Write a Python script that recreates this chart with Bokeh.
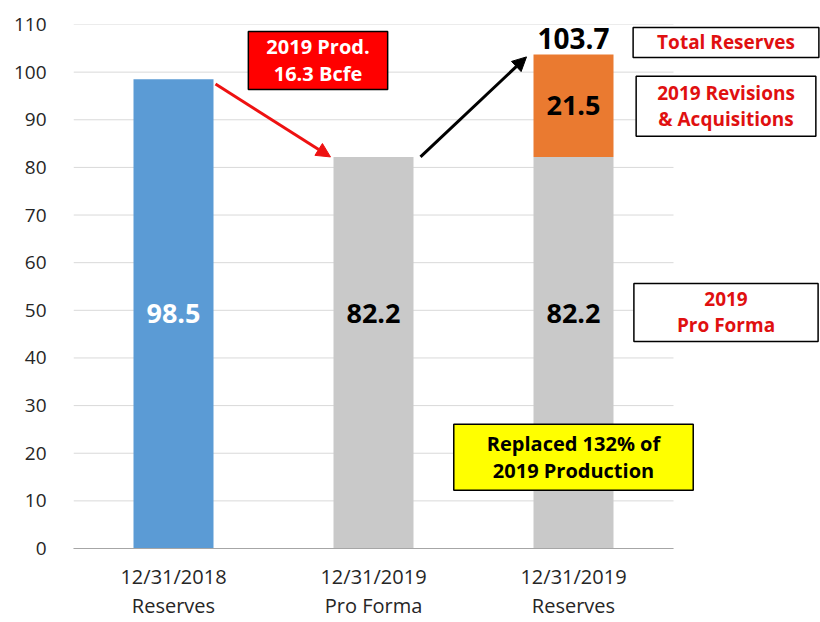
from bokeh.plotting import figure
from bokeh.models import Range1d, FixedTicker, Label, Arrow, NormalHead
from bokeh.embed import file_html
from bokeh.resources import INLINE

categories = ["12/31/2018\nReserves", "12/31/2019\nPro Forma", "12/31/2019\nReserves"]
base_values = [98.5, 82.2, 82.2]
base_colors = ["#5b9bd5", "#c9c9c9", "#c9c9c9"]
label_colors = ["white", "black", "black"]
revisions = 21.5
production = 16.3
total = 103.7
y_ticks = list(range(0, 111, 10))

FONT = "Open Sans"
xs = [i + 0.5 for i in range(len(categories))]
n = len(categories)

p = figure(width=820, height=622, output_backend="svg", toolbar_location=None,
           x_range=Range1d(0, 3.735), y_range=Range1d(0, 110),
           min_border_left=73, min_border_right=0, min_border_top=24, min_border_bottom=73)
p.outline_line_color = None
p.background_fill_color = "white"
p.xgrid.grid_line_color = None
p.ygrid.grid_line_color = None

# gridlines only across the category area
p.segment(x0=[0] * len(y_ticks), x1=[n] * len(y_ticks), y0=y_ticks, y1=y_ticks,
          line_color="#d9d9d9", line_width=1)

p.yaxis.ticker = FixedTicker(ticks=y_ticks)
p.yaxis.axis_line_color = None
p.yaxis.major_tick_line_color = None
p.yaxis.major_tick_out = 0
p.yaxis.minor_tick_line_color = None
p.yaxis.major_label_standoff = 27
p.yaxis.major_label_text_font = FONT
p.yaxis.major_label_text_font_size = "19px"
p.yaxis.major_label_text_color = "#262626"

p.xaxis.ticker = FixedTicker(ticks=xs)
p.xaxis.bounds = (0, n)
p.xaxis.major_label_overrides = {x: c for x, c in zip(xs, categories)}
p.xaxis.axis_line_color = "#a6a6a6"
p.xaxis.major_tick_line_color = None
p.xaxis.major_tick_out = 0
p.xaxis.minor_tick_line_color = None
p.xaxis.major_label_standoff = 14
p.xaxis.major_label_text_font = FONT
p.xaxis.major_label_text_font_size = "20px"
p.xaxis.major_label_text_color = "#262626"
p.xaxis.major_label_text_line_height = 1.1

# bars
p.vbar(x=xs, top=base_values, width=0.4, fill_color=base_colors, line_color=None)
p.vbar(x=[xs[2]], bottom=[base_values[2]], top=[base_values[2] + revisions], width=0.4,
       fill_color="#ea7a30", line_color=None)

# bar value labels (all on one common level, as in the original)
label_level = max(base_values) / 2
for x, v, c in zip(xs, base_values, label_colors):
    p.add_layout(Label(x=x, y=label_level, text=f"{v:.1f}", text_align="center", text_baseline="middle",
                       text_font=FONT, text_font_style="bold", text_font_size="27px", text_color=c))
p.add_layout(Label(x=xs[2], y=base_values[2] + revisions / 2, text=f"{revisions:.1f}",
                   text_align="center", text_baseline="middle",
                   text_font=FONT, text_font_style="bold", text_font_size="27px", text_color="black"))
p.add_layout(Label(x=xs[2], y=total, y_offset=6, text=f"{total:.1f}",
                   text_align="center", text_baseline="bottom",
                   text_font=FONT, text_font_style="bold", text_font_size="28px", text_color="black"))

# arrows
p.add_layout(Arrow(x_start=xs[0] + 0.21, y_start=base_values[0] - 1.0,
                   x_end=xs[1] - 0.215, y_end=base_values[1],
                   line_color="#ee1111", line_width=3,
                   end=NormalHead(size=14, fill_color="#ee1111", line_color="#ee1111")))
p.add_layout(Arrow(x_start=xs[1] + 0.235, y_start=base_values[1],
                   x_end=xs[2] - 0.235, y_end=total - 0.5,
                   line_color="black", line_width=3,
                   end=NormalHead(size=14, fill_color="black", line_color="black")))

# callout boxes; padding is (left, right, top, bottom)
def box(x, y, text, color, bg, pad, size):
    p.add_layout(Label(x=x, y=y, text=text, text_align="center", text_baseline="middle",
                       text_font=FONT, text_font_style="bold", text_font_size=size,
                       text_color=color, background_fill_color=bg,
                       border_line_color="black", border_line_width=1.5, padding=pad,
                       text_line_height=1.0))

box(1.2225, 102.46, f"2019 Prod.\n{production} Bcfe", "white", "#ff0000", (18, 18, 2, 2), "20px")
box(3.2625, 106.23, "Total Reserves", "#e01010", "white", (24, 24, 2, 2), "19px")
box(3.2625, 92.82, "2019 Revisions\n& Acquisitions", "#e01010", "white", (21, 21, 4, 4), "19px")
box(3.2625, 49.55, "2019\nPro Forma", "#e01010", "white", (43, 43, 3, 3), "19px")
box(2.5, 19.17, "Replaced 132% of\n2019 Production", "black", "#ffff00", (33, 33, 6, 6), "20px")

open("out.html", "w").write(file_html(p, INLINE))
